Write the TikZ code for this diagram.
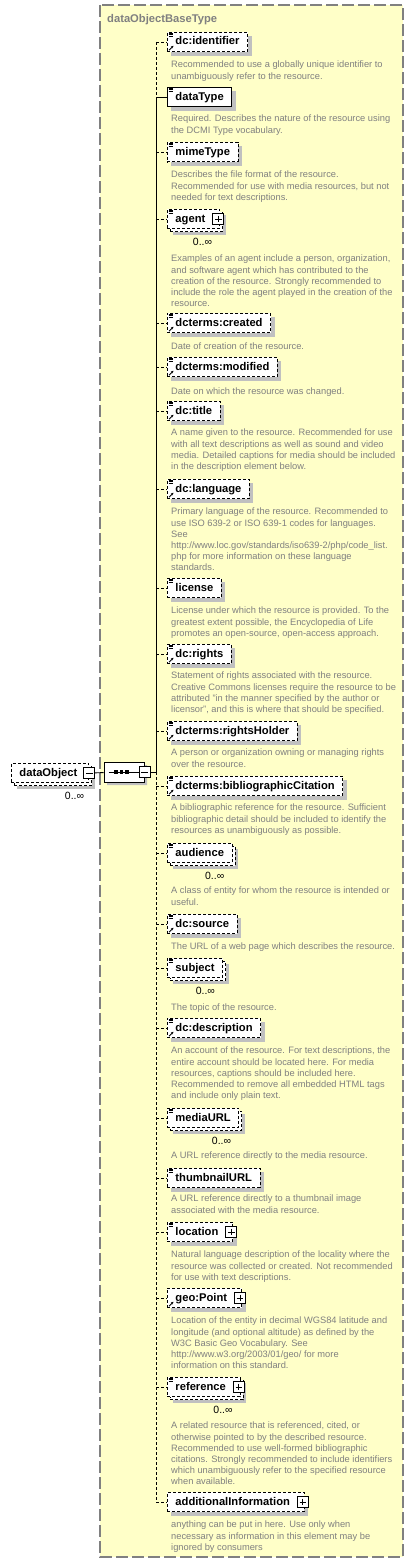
\documentclass[tikz,border=0pt]{standalone}
\usepackage{fontspec}
\setmainfont{Liberation Sans}
\usetikzlibrary{shapes.misc,shadows,arrows.meta}

\definecolor{panelfill}{RGB}{255,255,200}
\definecolor{panelline}{RGB}{128,128,128}
\definecolor{shadowgray}{RGB}{192,192,192}
\definecolor{descgray}{RGB}{128,128,128}

\newcommand{\elfont}{\fontsize{11.2}{13}\selectfont\bfseries}
\newcommand{\descfont}{\fontsize{9.3}{11.1}\selectfont}

\begin{document}
\begin{tikzpicture}[
    x=1pt, y=-1pt,
    panel/.style={draw=panelline, fill=panelfill, line width=1.3pt, dash pattern=on 12pt off 4pt},
    elbase/.style={draw, fill=white, line width=0.9pt, dash pattern=on 3pt off 2pt, anchor=west, minimum height=19.5pt, inner xsep=8pt, inner ysep=0pt, text height=8pt, text depth=2pt, font=\elfont},
    elem/.style={elbase, drop shadow={shadow xshift=4pt, shadow yshift=-4pt, fill=shadowgray, opacity=1}},
    reqelem/.style={elem, solid},
    repelem/.style={elbase, drop shadow={shadow xshift=6pt, shadow yshift=-6pt, fill=shadowgray, opacity=1}, general shadow={shadow xshift=3pt, shadow yshift=-3pt, draw=black, fill=white, line width=0.9pt, dash pattern=on 3pt off 2pt}},
    seqbox/.style={chamfered rectangle, chamfered rectangle xsep=7pt, chamfered rectangle ysep=6pt, draw, fill=white, line width=0.9pt, minimum width=40pt, minimum height=20pt, inner sep=0pt, drop shadow={shadow xshift=3pt, shadow yshift=-3pt, fill=shadowgray, opacity=1}},
    desc/.style={anchor=north west, inner sep=0pt, align=left, text=descgray, font=\descfont, execute at begin node={\rule{0pt}{7pt}}},
    mult/.style={anchor=base east, inner sep=0pt, font=\fontsize{10.5}{12}\selectfont},
    optline/.style={line width=0.9pt, dash pattern=on 3pt off 2pt},
    reqline/.style={line width=0.9pt},
    plusbox/.style={draw, solid, fill=white, line width=0.8pt, minimum size=11pt, inner sep=0pt,
        path picture={\draw[line width=0.8pt] ([xshift=2.2pt]path picture bounding box.west) -- ([xshift=-2.2pt]path picture bounding box.east);
                      \draw[line width=0.8pt] ([yshift=-2.2pt]path picture bounding box.north) -- ([yshift=2.2pt]path picture bounding box.south);}},
    minusbox/.style={draw, solid, fill=white, line width=0.8pt, minimum size=11pt, inner sep=0pt,
        path picture={\draw[line width=0.8pt] ([xshift=2.2pt]path picture bounding box.west) -- ([xshift=-2.2pt]path picture bounding box.east);}},
    refarrow/.style={line width=0.9pt, -{Stealth[length=2.6pt,width=2.6pt]}},
    docline/.style={line width=0.5pt}
]
\useasboundingbox (0,0) rectangle (415,1563);

% Complex type panel
\draw[panel] (100,5) rectangle (403,1557);
\node[anchor=base west, inner sep=0pt, text=panelline, font=\elfont] (paneltitle) at (107,23) {dataObjectBaseType};

% Root element and sequence compositor
\node[repelem] (obj) at (11,773) {dataObject\kern3.5pt};
\node[minusbox] (objminus) at (obj.east) {};
\node[mult] (objmult) at ([xshift=-5pt,yshift=-16pt]obj.south east) {0..∞};
\node[seqbox] (seq) at (124,772) {};
\node[minusbox] (seqminus) at (seq.east) {};
\draw[reqline] ([xshift=5pt]seq.west) -- (seqminus.west);
\foreach \dx in {-8,-2.5,3}
    \fill ([xshift=\dx pt]seq.center) +(-1.6,-1.6) rectangle +(1.6,1.6);
\coordinate (sp) at (156,772);
\draw[reqline] (objminus) -- (seq);
\draw[reqline] (seqminus) -- (sp);

% Child elements
\node[elem] (ident) at (167,42) {dc:identifier};
\node[reqelem] (dtype) at (167,97) {dataType};
\node[elem] (mime) at (167,152) {mimeType};
\node[repelem] (agent) at (167,219) {agent\kern6.5pt};
\node[elem] (created) at (167,323) {dcterms:created};
\node[elem] (modified) at (167,367) {dcterms:modified};
\node[elem] (title) at (167,411) {dc:title};
\node[elem] (lang) at (167,489) {dc:language};
\node[elem] (license) at (167,588) {license};
\node[elem] (rights) at (167,654) {dc:rights};
\node[elem] (holder) at (167,731) {dcterms:rightsHolder};
\node[elem] (biblio) at (167,786) {dcterms:bibliographicCitation};
\node[repelem] (audience) at (167,853) {audience};
\node[elem] (source) at (167,924) {dc:source};
\node[repelem] (subject) at (167,968) {subject};
\node[elem] (descr) at (167,1028) {dc:description};
\node[repelem] (mediaurl) at (167,1118) {mediaURL};
\node[elem] (thumb) at (167,1178) {thumbnailURL};
\node[elem] (location) at (167,1232) {location\kern6.5pt};
\node[elem] (geo) at (167,1298) {geo:Point\kern6.5pt};
\node[repelem] (reference) at (167,1387) {reference\kern6.5pt};
\node[elem] (addinfo) at (167,1502) {additionalInformation\kern6.5pt};

% Expand buttons
\foreach \n in {agent, location, geo, reference, addinfo}
    \node[plusbox] (\n plus) at ([xshift=-2pt]\n.east) {};

% Occurrence labels
\foreach \n in {agent, audience, subject, mediaurl, reference}
    \node[mult] (\n mult) at ([xshift=-8pt,yshift=-16pt]\n.south east) {0..∞};

% Documentation marks and reference arrows
\foreach \n in {ident, dtype, mime, agent, created, modified, title, lang, license, rights, holder, biblio, audience, source, subject, descr, mediaurl, thumb, location, reference}
    \foreach \k in {1,2.5,4}
        \draw[docline] ([xshift=1.5pt,yshift=-\k pt]\n.north west) -- ++(4.5,0);
\foreach \n in {ident, created, modified, title, lang, rights, holder, biblio, source, descr, geo}
    \draw[refarrow] ([xshift=2pt,yshift=2pt]\n.south west) -- ++(4.5,-4.5);

% Sequence spine and connectors
\draw[optline] (sp |- ident.west) -- (sp |- dtype.west);
\draw[reqline] (sp |- dtype.west) -- (sp);
\draw[optline] (sp) -- (sp |- addinfo.west);
\draw[reqline] (sp |- dtype.west) -- (dtype.west);
\foreach \n in {ident, mime, agent, created, modified, title, lang, license, rights, holder, biblio, audience, source, subject, descr, mediaurl, thumb, location, geo, reference, addinfo}
    \draw[optline] (sp |- \n.west) -- (\n.west);

% Annotations
\node[desc] (identdoc) at (171,61) {Recommended to use a globally unique identifier to\\unambiguously refer to the resource.};
\node[desc] (dtypedoc) at (171,115) {Required. Describes the nature of the resource using\\the DCMI Type vocabulary.};
\node[desc] (mimedoc) at (171,171) {Describes the file format of the resource.\\Recommended for use with media resources, but not\\needed for text descriptions.};
\node[desc] (agentdoc) at (171,255) {Examples of an agent include a person, organization,\\and software agent which has contributed to the\\creation of the resource. Strongly recommended to\\include the role the agent played in the creation of the\\resource.};
\node[desc] (createddoc) at (171,342) {Date of creation of the resource.};
\node[desc] (modifieddoc) at (171,387) {Date on which the resource was changed.};
\node[desc] (titledoc) at (171,429) {A name given to the resource. Recommended for use\\with all text descriptions as well as sound and video\\media. Detailed captions for media should be included\\in the description element below.};
\node[desc] (langdoc) at (171,508) {Primary language of the resource. Recommended to\\use ISO 639-2 or ISO 639-1 codes for languages.\\See\\http://www.loc.gov/standards/iso639-2/php/code\_list.\\php for more information on these language\\standards.};
\node[desc] (licensedoc) at (171,607) {License under which the resource is provided. To the\\greatest extent possible, the Encyclopedia of Life\\promotes an open-source, open-access approach.};
\node[desc] (rightsdoc) at (171,672) {Statement of rights associated with the resource.\\Creative Commons licenses require the resource to be\\attributed "in the manner specified by the author or\\licensor", and this is where that should be specified.};
\node[desc] (holderdoc) at (171,749) {A person or organization owning or managing rights\\over the resource.};
\node[desc] (bibliodoc) at (171,804) {A bibliographic reference for the resource. Sufficient\\bibliographic detail should be included to identify the\\resources as unambiguously as possible.};
\node[desc] (audiencedoc) at (171,887) {A class of entity for whom the resource is intended or\\useful.};
\node[desc] (sourcedoc) at (171,942) {The URL of a web page which describes the resource.};
\node[desc] (subjectdoc) at (171,1003) {The topic of the resource.};
\node[desc] (descrdoc) at (171,1047) {An account of the resource. For text descriptions, the\\entire account should be located here. For media\\resources, captions should be included here.\\Recommended to remove all embedded HTML tags\\and include only plain text.};
\node[desc] (mediaurldoc) at (171,1151) {A URL reference directly to the media resource.};
\node[desc] (thumbdoc) at (171,1195) {A URL reference directly to a thumbnail image\\associated with the media resource.};
\node[desc] (locationdoc) at (171,1251) {Natural language description of the locality where the\\resource was collected or created. Not recommended\\for use with text descriptions.};
\node[desc] (geodoc) at (171,1317) {Location of the entity in decimal WGS84 latitude and\\longitude (and optional altitude) as defined by the\\W3C Basic Geo Vocabulary. See\\http://www.w3.org/2003/01/geo/ for more\\information on this standard.};
\node[desc] (referencedoc) at (171,1422) {A related resource that is referenced, cited, or\\otherwise pointed to by the described resource.\\Recommended to use well-formed bibliographic\\citations. Strongly recommended to include identifiers\\which unambiguously refer to the specified resource\\when available.};
\node[desc] (addinfodoc) at (171,1521) {anything can be put in here. Use only when\\necessary as information in this element may be\\ignored by consumers};

\end{tikzpicture}
\end{document}
